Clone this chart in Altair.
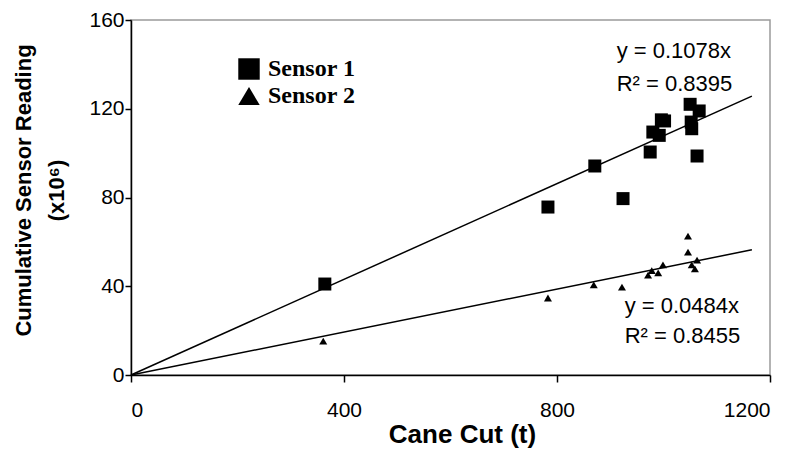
import altair as alt
import pandas as pd

# Sensor 1 (squares)
s1_cane = [364, 783, 871, 924, 975, 980, 992, 996, 1002, 1050, 1052, 1053, 1063, 1067]
s1_read = [41, 75.7, 94.2, 79.5, 100.5, 109.5, 108, 115, 114.5, 122, 114, 111, 98.7, 119]
# Sensor 2 (triangles)
s2_cane = [361, 783, 869, 922, 971, 978, 990, 999, 1046, 1046, 1053, 1059, 1063]
s2_read = [15.3, 34.7, 40.6, 39.6, 45, 47, 46, 49.6, 62.6, 55.4, 49.6, 47.8, 51.8]

series = ["Sensor 1", "Sensor 2"]
slopes = [0.1078, 0.0484]
trend_x = [0, 1166]
labels_eq = ["y = 0.1078x", "R² = 0.8395", "y = 0.0484x", "R² = 0.8455"]
labels_x = [912, 912, 927, 927]
labels_y = [143, 128, 28, 14.5]

x_ticks = [0, 400, 800, 1200]
y_ticks = [0, 40, 80, 120, 160]

TRI = "M0,-0.85L1,0.85L-1,0.85Z"

s1 = pd.DataFrame({"cane": s1_cane, "reading": s1_read, "sensor": series[0]})
s2 = pd.DataFrame({"cane": s2_cane, "reading": s2_read, "sensor": series[1]})
trend = pd.DataFrame(
    [{"sensor": s, "cane": x, "reading": m * x} for s, m in zip(series, slopes) for x in trend_x]
)
ann = pd.DataFrame({"text": labels_eq, "cane": labels_x, "reading": labels_y})

FONT = "Liberation Sans"

xenc = alt.X("cane:Q", scale=alt.Scale(domain=[0, 1200], nice=False),
             axis=alt.Axis(values=x_ticks, format="d", title="Cane Cut (t)", grid=False,
                           tickSize=7, labelPadding=17, labelFontSize=21, labelFont=FONT,
                           labelColor="black", domainColor="black", tickColor="black",
                           domainWidth=1.5, tickWidth=1.5,
                           titleFont=FONT, titleFontSize=26, titleFontWeight="bold",
                           titleColor="black", titleX=331, titleY=67,
                           titleBaseline="alphabetic", titleAlign="center"))
yenc = alt.Y("reading:Q", scale=alt.Scale(domain=[0, 160], nice=False),
             axis=alt.Axis(values=y_ticks, format="d",
                           title=["Cumulative Sensor Reading", "(x10⁶)"],
                           grid=False, tickSize=6, labelPadding=1, labelFontSize=21,
                           labelFont=FONT, labelColor="black", domainColor="black",
                           tickColor="black", domainWidth=1.5, tickWidth=1.5,
                           titleFont=FONT, titleFontSize=22, titleFontWeight="bold",
                           titleColor="black", titleAngle=-90, titleX=-108, titleY=170,
                           titleAlign="center", titleBaseline="middle", titleLineHeight=33))

shape_enc = alt.Shape(
    "sensor:N",
    scale=alt.Scale(domain=series, range=["square", TRI]),
    legend=alt.Legend(title=None, orient="none", legendX=106, legendY=37,
                      symbolSize=460, symbolFillColor="black",
                      symbolStrokeColor="black", symbolOpacity=1, symbolStrokeWidth=0,
                      labelFont="Liberation Serif", labelFontSize=24,
                      labelFontWeight="bold", labelColor="black",
                      labelOffset=7, rowPadding=3, padding=0),
)

sq = alt.Chart(s1).mark_point(filled=True, opacity=1, color="black", strokeWidth=0, size=169).encode(
    x=xenc, y=yenc, shape=shape_enc
)
tri = alt.Chart(s2).mark_point(filled=True, opacity=1, color="black", strokeWidth=0, size=64).encode(
    x="cane:Q", y="reading:Q", shape=shape_enc
)

lines = alt.Chart(trend).mark_line(color="black", strokeWidth=1.5).encode(
    x="cane:Q", y="reading:Q", detail="sensor:N"
)

texts = alt.Chart(ann).mark_text(align="left", baseline="alphabetic", font=FONT,
                                 fontSize=22, color="black").encode(
    x="cane:Q", y="reading:Q", text="text:N"
)

chart = alt.layer(lines, sq, tri, texts).properties(
    width=639, height=355,
    autosize=alt.AutoSizeParams(type="none"),
    padding={"left": 123, "top": 12, "right": 20, "bottom": 74},
).configure_view(stroke="#9a9a9a", strokeWidth=1.5)

chart.save("out.html", embed_options={"renderer": "svg", "actions": False})
